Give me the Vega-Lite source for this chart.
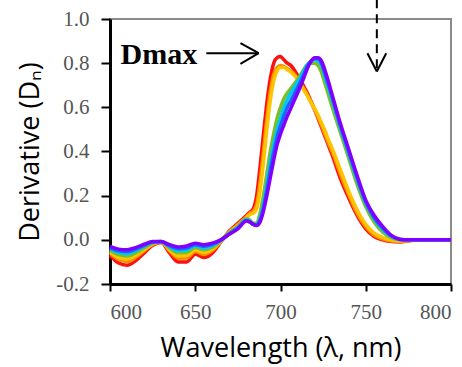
{
 "$schema": "https://vega.github.io/schema/vega-lite/v6.json",
 "width": 341,
 "height": 265,
 "autosize": {"type": "none"},
 "padding": {"left": 110, "top": 19, "right": 11, "bottom": 83},
 "background": "white",
 "config": {
  "view": {"stroke": "#8a8a8a", "strokeWidth": 2},
  "axis": {"grid": false, "labelFont": "Liberation Serif", "labelFontSize": 21, "labelColor": "#555555",
   "tickColor": "black", "tickWidth": 2, "domainColor": "black", "domainWidth": 3,
   "titleFont": "Open Sans", "titleFontSize": 27, "titleFontWeight": "normal", "titleColor": "black"}
 },
 "layer": [
  {
   "data": {"values": [
    {"x":600,"s1":-0.07,"s2":-0.06,"s3":-0.054,"s4":-0.046,"s5":-0.04,"s6":-0.035,"s7":-0.03},
    {"x":605,"s1":-0.105,"s2":-0.089,"s3":-0.08,"s4":-0.067,"s5":-0.058,"s6":-0.05,"s7":-0.042},
    {"x":610,"s1":-0.115,"s2":-0.098,"s3":-0.087,"s4":-0.073,"s5":-0.063,"s6":-0.053,"s7":-0.045},
    {"x":615,"s1":-0.095,"s2":-0.08,"s3":-0.071,"s4":-0.059,"s5":-0.05,"s6":-0.042,"s7":-0.035},
    {"x":620,"s1":-0.06,"s2":-0.05,"s3":-0.044,"s4":-0.036,"s5":-0.03,"s6":-0.025,"s7":-0.02},
    {"x":625,"s1":-0.025,"s2":-0.021,"s3":-0.018,"s4":-0.015,"s5":-0.012,"s6":-0.01,"s7":-0.008},
    {"x":630,"s1":-0.012,"s2":-0.011,"s3":-0.01,"s4":-0.01,"s5":-0.009,"s6":-0.008,"s7":-0.008},
    {"x":635,"s1":-0.06,"s2":-0.05,"s3":-0.045,"s4":-0.037,"s5":-0.032,"s6":-0.027,"s7":-0.022},
    {"x":640,"s1":-0.1,"s2":-0.083,"s3":-0.073,"s4":-0.059,"s5":-0.049,"s6":-0.04,"s7":-0.032},
    {"x":645,"s1":-0.1,"s2":-0.082,"s3":-0.071,"s4":-0.057,"s5":-0.046,"s6":-0.037,"s7":-0.028},
    {"x":650,"s1":-0.065,"s2":-0.053,"s3":-0.045,"s4":-0.035,"s5":-0.028,"s6":-0.021,"s7":-0.015},
    {"x":655,"s1":-0.08,"s2":-0.066,"s3":-0.057,"s4":-0.045,"s5":-0.037,"s6":-0.029,"s7":-0.022},
    {"x":660,"s1":-0.06,"s2":-0.049,"s3":-0.042,"s4":-0.033,"s5":-0.026,"s6":-0.02,"s7":-0.015},
    {"x":665,"s1":-0.01,"s2":-0.008,"s3":-0.006,"s4":-0.004,"s5":-0.003,"s6":-0.001,"s7":0},
    {"x":670,"s1":0.04,"s2":0.036,"s3":0.034,"s4":0.031,"s5":0.029,"s6":0.027,"s7":0.025},
    {"x":675,"s1":0.075,"s2":0.069,"s3":0.065,"s4":0.06,"s5":0.056,"s6":0.053,"s7":0.05},
    {"x":680,"s1":0.11,"s2":0.104,"s3":0.1,"s4":0.095,"s5":0.091,"s6":0.088,"s7":0.085},
    {"x":682,"s1":0.125,"s2":0.12,"s3":0.115,"s4":0.09,"s5":0.085,"s6":0.082,"s7":0.08},
    {"x":684,"s1":0.14,"s2":0.13,"s3":0.12,"s4":0.075,"s5":0.07,"s6":0.07,"s7":0.07},
    {"x":686,"s1":0.2,"s2":0.16,"s3":0.14,"s4":0.075,"s5":0.07,"s6":0.067,"s7":0.065},
    {"x":688,"s1":0.33,"s2":0.26,"s3":0.22,"s4":0.12,"s5":0.1,"s6":0.09,"s7":0.08},
    {"x":690,"s1":0.48,"s2":0.4,"s3":0.35,"s4":0.2,"s5":0.16,"s6":0.145,"s7":0.13},
    {"x":692,"s1":0.62,"s2":0.55,"s3":0.5,"s4":0.3,"s5":0.25,"s6":0.225,"s7":0.2},
    {"x":694,"s1":0.73,"s2":0.67,"s3":0.63,"s4":0.4,"s5":0.35,"s6":0.315,"s7":0.28},
    {"x":696,"s1":0.8,"s2":0.75,"s3":0.72,"s4":0.48,"s5":0.43,"s6":0.395,"s7":0.36},
    {"x":698,"s1":0.825,"s2":0.78,"s3":0.765,"s4":0.55,"s5":0.5,"s6":0.465,"s7":0.43},
    {"x":700,"s1":0.83,"s2":0.79,"s3":0.78,"s4":0.6,"s5":0.55,"s6":0.515,"s7":0.48},
    {"x":702,"s1":0.815,"s2":0.785,"s3":0.78,"s4":0.64,"s5":0.6,"s6":0.56,"s7":0.52},
    {"x":704,"s1":0.8,"s2":0.775,"s3":0.77,"s4":0.665,"s5":0.635,"s6":0.6,"s7":0.56},
    {"x":706,"s1":0.79,"s2":0.765,"s3":0.76,"s4":0.685,"s5":0.665,"s6":0.63,"s7":0.595},
    {"x":708,"s1":0.77,"s2":0.75,"s3":0.745,"s4":0.705,"s5":0.69,"s6":0.66,"s7":0.63},
    {"x":710,"s1":0.745,"s2":0.73,"s3":0.725,"s4":0.725,"s5":0.715,"s6":0.69,"s7":0.665},
    {"x":712,"s1":0.72,"s2":0.705,"s3":0.7,"s4":0.75,"s5":0.74,"s6":0.72,"s7":0.7},
    {"x":714,"s1":0.69,"s2":0.68,"s3":0.675,"s4":0.775,"s5":0.77,"s6":0.755,"s7":0.74},
    {"x":716,"s1":0.66,"s2":0.65,"s3":0.65,"s4":0.795,"s5":0.795,"s6":0.79,"s7":0.78},
    {"x":718,"s1":0.625,"s2":0.62,"s3":0.62,"s4":0.8,"s5":0.81,"s6":0.81,"s7":0.81},
    {"x":720,"s1":0.59,"s2":0.59,"s3":0.595,"s4":0.8,"s5":0.815,"s6":0.82,"s7":0.825},
    {"x":722,"s1":0.55,"s2":0.555,"s3":0.565,"s4":0.79,"s5":0.81,"s6":0.82,"s7":0.825},
    {"x":724,"s1":0.51,"s2":0.52,"s3":0.53,"s4":0.76,"s5":0.79,"s6":0.8,"s7":0.81},
    {"x":726,"s1":0.47,"s2":0.48,"s3":0.495,"s4":0.71,"s5":0.74,"s6":0.755,"s7":0.77},
    {"x":728,"s1":0.43,"s2":0.44,"s3":0.455,"s4":0.66,"s5":0.69,"s6":0.705,"s7":0.72},
    {"x":730,"s1":0.39,"s2":0.405,"s3":0.42,"s4":0.61,"s5":0.64,"s6":0.655,"s7":0.665},
    {"x":735,"s1":0.28,"s2":0.3,"s3":0.32,"s4":0.49,"s5":0.51,"s6":0.52,"s7":0.53},
    {"x":740,"s1":0.19,"s2":0.205,"s3":0.22,"s4":0.37,"s5":0.39,"s6":0.4,"s7":0.41},
    {"x":745,"s1":0.11,"s2":0.12,"s3":0.135,"s4":0.25,"s5":0.27,"s6":0.28,"s7":0.29},
    {"x":750,"s1":0.05,"s2":0.06,"s3":0.07,"s4":0.15,"s5":0.165,"s6":0.172,"s7":0.18},
    {"x":755,"s1":0.015,"s2":0.022,"s3":0.03,"s4":0.08,"s5":0.095,"s6":0.1,"s7":0.11},
    {"x":760,"s1":0,"s2":0.004,"s3":0.01,"s4":0.035,"s5":0.045,"s6":0.052,"s7":0.06},
    {"x":765,"s1":-0.008,"s2":-0.005,"s3":0,"s4":0.01,"s5":0.015,"s6":0.018,"s7":0.02},
    {"x":770,"s1":-0.01,"s2":-0.008,"s3":-0.005,"s4":0,"s5":0.002,"s6":0.002,"s7":0.003},
    {"x":775,"s1":-0.005,"s2":-0.004,"s3":-0.003,"s4":-0.002,"s5":0,"s6":0,"s7":0},
    {"x":780,"s1":0,"s2":0,"s3":0,"s4":0,"s5":0,"s6":0,"s7":0},
    {"x":790,"s1":0,"s2":0,"s3":0,"s4":0,"s5":0,"s6":0,"s7":0},
    {"x":800,"s1":0,"s2":0,"s3":0,"s4":0,"s5":0,"s6":0,"s7":0}
   ]},
   "transform": [{"fold": ["s1","s2","s3","s4","s5","s6","s7"], "as": ["series","value"]}],
   "mark": {"type": "line", "strokeWidth": 3.5, "interpolate": "monotone"},
   "encoding": {
    "x": {"field": "x", "type": "quantitative",
     "scale": {"domain": [600, 800], "nice": false},
     "axis": {"values": [600,650,700,750,800], "tickSize": 7, "labelPadding": 10,
      "title": "Wavelength (λ, nm)", "titlePadding": 13}},
    "y": {"field": "value", "type": "quantitative",
     "scale": {"domain": [-0.2, 1.0], "nice": false},
     "axis": {"values": [-0.2,0,0.2,0.4,0.6,0.8,1.0], "labelExpr": "replace(format(datum.value,'.1f'),'−','-')",
      "tickSize": 9, "labelPadding": 12,
      "title": "Derivative (Dₙ)", "titlePadding": 11}},
    "color": {"field": "series", "type": "nominal",
     "scale": {"domain": ["s1","s2","s3","s4","s5","s6","s7"], "range": ["#FF1010","#FF8C00","#FFC400","#7DBE20","#00C8F0","#2060FF","#8000FF"]},
     "legend": null}
   }
  },
  {
   "data": {"values": [
    {"x":656.5,"y":0.845,"x2":687.2,"y2":0.845},
    {"x":676.5,"y":0.891,"x2":687.2,"y2":0.845},
    {"x":676.5,"y":0.797,"x2":687.2,"y2":0.845},
    {"x":751,"y":0.845,"x2":756.5,"y2":0.762},
    {"x":762,"y":0.845,"x2":756.5,"y2":0.762}
   ]},
   "mark": {"type": "rule", "color": "black", "strokeWidth": 2},
   "encoding": {
    "x": {"field": "x", "type": "quantitative"},
    "y": {"field": "y", "type": "quantitative"},
    "x2": {"field": "x2"},
    "y2": {"field": "y2"}
   }
  },
  {
   "data": {"values": [{"x":756.5,"y":1.09,"x2":756.5,"y2":0.775}]},
   "mark": {"type": "rule", "color": "black", "strokeWidth": 2, "strokeDash": [9, 6]},
   "encoding": {
    "x": {"field": "x", "type": "quantitative"},
    "y": {"field": "y", "type": "quantitative"},
    "x2": {"field": "x2"},
    "y2": {"field": "y2"}
   }
  },
  {
   "data": {"values": [{"x":606.2,"y":0.797,"label":"Dmax"}]},
   "mark": {"type": "text", "align": "left", "baseline": "alphabetic", "font": "Liberation Serif", "fontWeight": "bold", "fontSize": 30, "color": "black"},
   "encoding": {
    "x": {"field": "x", "type": "quantitative"},
    "y": {"field": "y", "type": "quantitative"},
    "text": {"field": "label"}
   }
  }
 ]
}
